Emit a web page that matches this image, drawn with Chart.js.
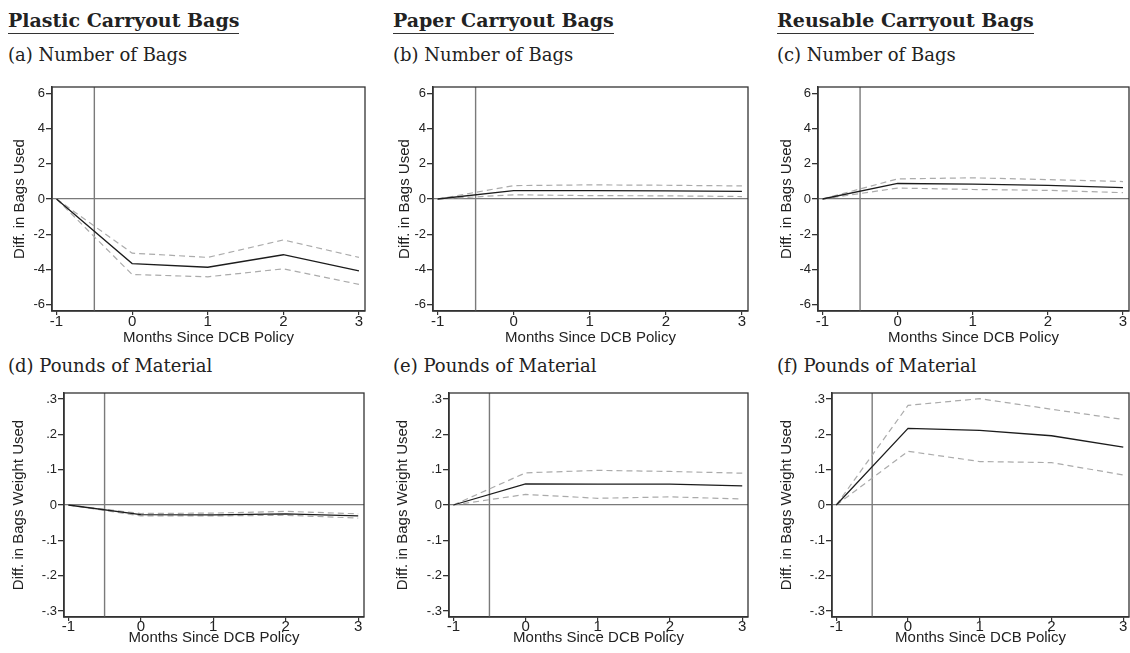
<!DOCTYPE html>
<html>
<head>
<meta charset="utf-8">
<script src="https://cdn.jsdelivr.net/npm/chart.js@4.4.1/dist/chart.umd.min.js"></script>
<style>
  body { margin: 0; background: #fff; width: 1130px; height: 653px; position: relative; overflow: hidden; }
  .head { position: absolute; top: 11px; font-family: "DejaVu Serif", serif; font-weight: bold; font-size: 19px;
          line-height: 1; color: #222; padding-bottom: 3px; border-bottom: 1.5px solid #333; white-space: nowrap; }
  .sub { position: absolute; font-family: "DejaVu Serif", serif; font-size: 18px; line-height: 1; color: #222; white-space: nowrap; }
  canvas { position: absolute; }
</style>
</head>
<body>
<div class="head" style="left:8px">Plastic Carryout Bags</div>
<div class="head" style="left:393px">Paper Carryout Bags</div>
<div class="head" style="left:777px">Reusable Carryout Bags</div>
<div class="sub" style="left:8px;top:46px">(a) Number of Bags</div>
<div class="sub" style="left:393px;top:46px">(b) Number of Bags</div>
<div class="sub" style="left:777px;top:46px">(c) Number of Bags</div>
<div class="sub" style="left:8px;top:357px">(d) Pounds of Material</div>
<div class="sub" style="left:393px;top:357px">(e) Pounds of Material</div>
<div class="sub" style="left:777px;top:357px">(f) Pounds of Material</div>
<script>
// months relative to the policy, and where the policy line sits
const months = [-1, 0, 1, 2, 3];
const policyMonth = -0.5;

const bagTicks = [-6, -4, -2, 0, 2, 4, 6];
const bagTickLabels = ['-6', '-4', '-2', '0', '2', '4', '6'];
const weightTicks = [-0.3, -0.2, -0.1, 0, 0.1, 0.2, 0.3];
const weightTickLabels = ['-.3', '-.2', '-.1', '0', '.1', '.2', '.3'];

// number of bags: estimate, upper and lower bound
const plasticBags   = [0, -3.66, -3.87, -3.16, -4.07];
const plasticBagsHi = [0, -3.07, -3.31, -2.32, -3.31];
const plasticBagsLo = [0, -4.28, -4.41, -3.96, -4.84];
const paperBags   = [0, 0.48, 0.47, 0.46, 0.43];
const paperBagsHi = [0, 0.76, 0.80, 0.78, 0.74];
const paperBagsLo = [0, 0.24, 0.19, 0.18, 0.14];
const reusableBags   = [0, 0.88, 0.84, 0.77, 0.64];
const reusableBagsHi = [0, 1.14, 1.20, 1.10, 0.99];
const reusableBagsLo = [0, 0.62, 0.54, 0.49, 0.36];

// pounds of material
const plasticWeight   = [0, -0.027, -0.028, -0.025, -0.031];
const plasticWeightHi = [0, -0.024, -0.023, -0.018, -0.025];
const plasticWeightLo = [0, -0.031, -0.031, -0.029, -0.037];
const paperWeight   = [0, 0.060, 0.059, 0.059, 0.054];
const paperWeightHi = [0, 0.091, 0.098, 0.095, 0.090];
const paperWeightLo = [0, 0.030, 0.019, 0.023, 0.017];
const reusableWeight   = [0, 0.217, 0.211, 0.196, 0.164];
const reusableWeightHi = [0, 0.282, 0.301, 0.271, 0.242];
const reusableWeightLo = [0, 0.152, 0.123, 0.120, 0.085];

const xMin = -1.06, xMax = 3.08;
const bagLim = 6.35, weightLim = 0.317;

const rows = {
    top:    { top: 77,  height: 270, xH: 36, tickPad: -2 },
    bottom: { top: 383, height: 264, xH: 30, tickPad: -3.5 }
};

const panels = [
    { row: 'top', left: 11,  width: 356, yW: 41, padR: 2, est: plasticBags, hi: plasticBagsHi, lo: plasticBagsLo, weight: false },
    { row: 'top', left: 396, width: 354, yW: 37, padR: 2, est: paperBags, hi: paperBagsHi, lo: paperBagsLo, weight: false },
    { row: 'top', left: 778, width: 352, yW: 40, padR: 1, est: reusableBags, hi: reusableBagsHi, lo: reusableBagsLo, weight: false },
    { row: 'bottom', left: 10,  width: 356, yW: 54, padR: 2, est: plasticWeight, hi: plasticWeightHi, lo: plasticWeightLo, weight: true },
    { row: 'bottom', left: 394, width: 356, yW: 55, padR: 2, est: paperWeight, hi: paperWeightHi, lo: paperWeightLo, weight: true },
    { row: 'bottom', left: 778, width: 352, yW: 54, padR: 1, est: reusableWeight, hi: reusableWeightHi, lo: reusableWeightLo, weight: true }
];

const frame = {
    id: 'frame',
    afterDatasetsDraw(chart) {
        const { ctx, chartArea: a } = chart;
        ctx.save();
        ctx.strokeStyle = '#333';
        ctx.lineWidth = 1.3;
        ctx.strokeRect(a.left, a.top, a.right - a.left, a.bottom - a.top);
        ctx.restore();
    }
};

const pts = ys => months.map((m, i) => ({ x: m, y: ys[i] }));
const sans = size => ({ family: '"Liberation Sans", Arial, sans-serif', size: size });

panels.forEach(p => {
    const row = rows[p.row];
    const lim = p.weight ? weightLim : bagLim;
    const yTicks = p.weight ? weightTicks : bagTicks;
    const yLabels = p.weight ? weightTickLabels : bagTickLabels;

    const cv = document.createElement('canvas');
    cv.width = p.width;
    cv.height = row.height;
    cv.style.left = p.left + 'px';
    cv.style.top = row.top + 'px';
    document.body.appendChild(cv);

    new Chart(cv, {
        type: 'line',
        data: {
            datasets: [
                { data: pts(p.est), borderColor: '#1c1c1c', borderWidth: 1.3 },
                { data: pts(p.hi), borderColor: '#ababab', borderWidth: 1.2, borderDash: [6, 4] },
                { data: pts(p.lo), borderColor: '#ababab', borderWidth: 1.2, borderDash: [6, 4] },
                { data: [{ x: policyMonth, y: -lim }, { x: policyMonth, y: lim }], borderColor: '#7a7a7a', borderWidth: 1.4 }
            ]
        },
        options: {
            responsive: false,
            animation: false,
            devicePixelRatio: 1,
            layout: { padding: { top: 10, right: p.padR, left: 0, bottom: 0 } },
            plugins: { legend: { display: false }, tooltip: { enabled: false } },
            elements: { point: { radius: 0 }, line: { tension: 0 } },
            scales: {
                x: {
                    type: 'linear', min: xMin, max: xMax,
                    afterBuildTicks: s => { s.ticks = months.map(v => ({ value: v })); },
                    afterFit: s => { s.height = row.xH; },
                    ticks: { font: sans(15), color: '#222', padding: row.tickPad, maxRotation: 0, autoSkip: false },
                    grid: { color: 'transparent', tickColor: '#333', tickLength: 4, lineWidth: 1.2 },
                    border: { display: true, color: '#333', width: 1.5 },
                    title: { display: true, text: 'Months Since DCB Policy', font: sans(15), color: '#222', padding: 0 }
                },
                y: {
                    type: 'linear', min: -lim, max: lim,
                    afterBuildTicks: s => { s.ticks = yTicks.map(v => ({ value: v })); },
                    afterFit: s => { s.width = p.yW; },
                    ticks: { font: sans(13), color: '#222', padding: 1, autoSkip: false,
                             callback: (v, i) => yLabels[i] },
                    grid: { color: ctx => (ctx.tick && ctx.tick.value === 0 ? '#7a7a7a' : 'transparent'),
                            tickColor: '#333', tickLength: 6, lineWidth: 1.3 },
                    border: { display: true, color: '#333', width: 1.5 },
                    title: { display: true, text: p.weight ? 'Diff. in Bags Weight Used' : 'Diff. in Bags Used',
                             font: sans(15), color: '#222', padding: 0 }
                }
            }
        },
        plugins: [frame]
    });
});
</script>
</body>
</html>
